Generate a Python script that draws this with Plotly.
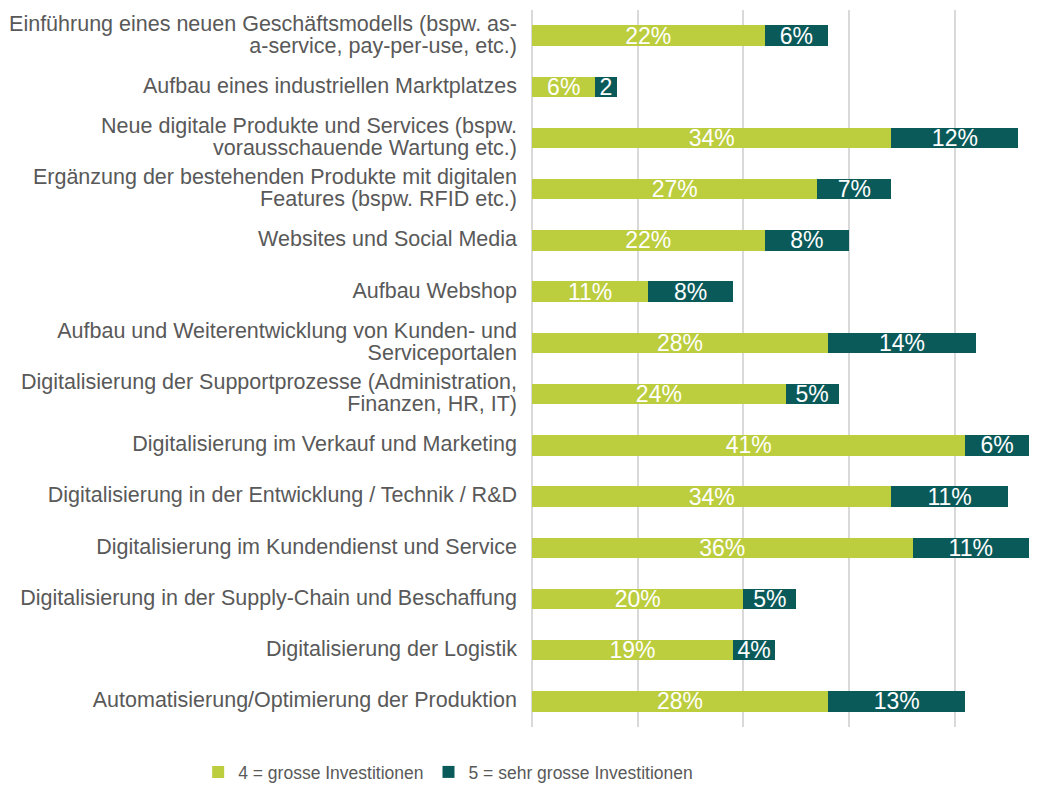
import plotly.graph_objects as go

categories = [
    "Einführung eines neuen Geschäftsmodells (bspw. as-<br>a-service, pay-per-use, etc.)",
    "Aufbau eines industriellen Marktplatzes",
    "Neue digitale Produkte und Services (bspw.<br>vorausschauende Wartung etc.)",
    "Ergänzung der bestehenden Produkte mit digitalen<br>Features (bspw. RFID etc.)",
    "Websites und Social Media",
    "Aufbau Webshop",
    "Aufbau und Weiterentwicklung von Kunden- und<br>Serviceportalen",
    "Digitalisierung der Supportprozesse (Administration,<br>Finanzen, HR, IT)",
    "Digitalisierung im Verkauf und Marketing",
    "Digitalisierung in der Entwicklung / Technik / R&D",
    "Digitalisierung im Kundendienst und Service",
    "Digitalisierung in der Supply-Chain und Beschaffung",
    "Digitalisierung der Logistik",
    "Automatisierung/Optimierung der Produktion",
]
gross = [22, 6, 34, 27, 22, 11, 28, 24, 41, 34, 36, 20, 19, 28]
sehr_gross = [6, 2, 12, 7, 8, 8, 14, 5, 6, 11, 11, 5, 4, 13]
gross_labels = [f"{v}%" for v in gross]
sehr_gross_labels = ["6%", "2", "12%", "7%", "8%", "8%", "14%", "5%", "6%", "11%", "11%", "5%", "4%", "13%"]

series_names = ["4 = grosse Investitionen", "5 = sehr grosse Investitionen"]
colors = ["#BCCD3E", "#0B5A5A"]

FONT = "Liberation Sans, Arial, sans-serif"

# tick text: lines drawn larger than the base font to get the tight line spacing
tick_text = [
    "<br>".join(f'<span style="font-size:21.5px">{line}</span>' for line in c.split("<br>"))
    for c in categories
]

fig = go.Figure()
for vals, labels, name, col in [
    (gross, gross_labels, series_names[0], colors[0]),
    (sehr_gross, sehr_gross_labels, series_names[1], colors[1]),
]:
    fig.add_trace(go.Bar(
        y=categories, x=vals, name=name, orientation="h",
        marker=dict(color=col, line=dict(width=0)),
        text=labels, textposition="inside", insidetextanchor="middle",
        constraintext="none", textangle=0,
        textfont=dict(color="white", size=23, family=FONT),
        hoverinfo="skip",
    ))

# the page body has an 8px margin, so the figure is sized/offset accordingly
fig.update_layout(
    barmode="stack",
    bargap=0.6,
    width=1041, height=783,
    margin=dict(l=524, r=18, t=2, b=63),
    paper_bgcolor="white", plot_bgcolor="white",
    font=dict(family=FONT, color="#595959"),
    showlegend=True,
    legend=dict(
        orientation="h", xref="paper", yref="paper",
        x=-0.669, xanchor="left", y=-0.0864, yanchor="bottom",
        font=dict(size=17.5, color="#595959", family=FONT),
        traceorder="normal", itemwidth=30,
    ),
)
fig.update_xaxes(
    range=[0, 47.2], showticklabels=False, showgrid=True,
    gridcolor="#D9D9D9", gridwidth=2, dtick=10, zeroline=True,
    zerolinecolor="#D9D9D9", zerolinewidth=2, showline=False, fixedrange=True,
)
fig.update_yaxes(
    autorange="reversed", tickmode="array", tickvals=categories, ticktext=tick_text,
    tickfont=dict(size=17, color="#595959", family=FONT),
    showgrid=False, showline=False, ticks="", ticklabelstandoff=14,
)

fig.write_html("out.html")
